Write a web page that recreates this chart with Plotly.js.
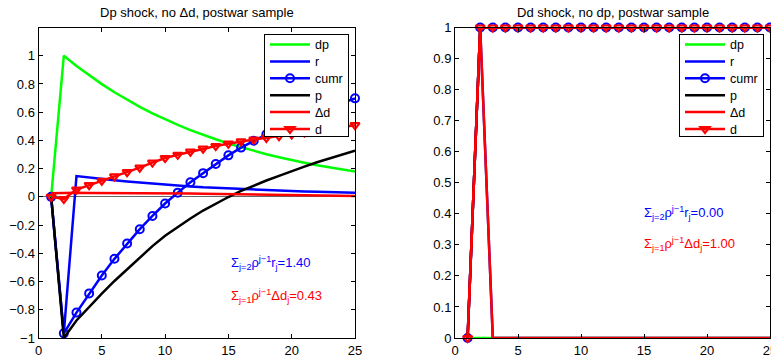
<!DOCTYPE html>
<html><head><meta charset="utf-8">
<script src="https://cdn.plot.ly/plotly-3.0.1.min.js"></script>
<style>html,body{margin:0;padding:0;background:#fff;} #chart{width:771px;height:358px;}</style>
</head><body><div id="chart"></div>
<script>
// horizon j = 1..25
const steps = [1,2,3,4,5,6,7,8,9,10,11,12,13,14,15,16,17,18,19,20,21,22,23,24,25];
const seriesNames = ['dp','r','cumr','p','\u0394d','d'];

// Left panel: Dp shock, no Δd
const dpL   = [0,1.000,0.928,0.861,0.799,0.741,0.688,0.638,0.592,0.550,0.510,0.473,0.439,0.408,0.378,0.351,0.326,0.302,0.281,0.260,0.242,0.224,0.208,0.193,0.180];
const rL    = [0,-0.967,0.147,0.136,0.127,0.118,0.109,0.101,0.094,0.088,0.080,0.074,0.068,0.064,0.060,0.055,0.050,0.046,0.043,0.040,0.038,0.036,0.034,0.032,0.030];
const cumrL = [0,-0.967,-0.820,-0.684,-0.557,-0.439,-0.330,-0.229,-0.135,-0.047,0.030,0.103,0.168,0.233,0.294,0.349,0.398,0.443,0.486,0.526,0.564,0.600,0.634,0.666,0.698];
const pL    = [0,-1.000,-0.876,-0.778,-0.685,-0.596,-0.513,-0.431,-0.349,-0.275,-0.212,-0.153,-0.097,-0.048,-0.001,0.042,0.080,0.116,0.149,0.183,0.214,0.245,0.274,0.302,0.328];
const ddL   = [0.025,0.028,0.029,0.028,0.028,0.027,0.027,0.026,0.026,0.025,0.024,0.023,0.022,0.021,0.020,0.019,0.018,0.017,0.015,0.014,0.013,0.011,0.010,0.008,0.007];
const dL    = [0,-0.015,0.052,0.083,0.114,0.145,0.175,0.207,0.243,0.275,0.298,0.320,0.342,0.360,0.377,0.393,0.406,0.418,0.430,0.443,0.456,0.469,0.482,0.495,0.508];

// Right panel: Dd shock, no dp
const dpR   = [0,0,0,0,0,0,0,0,0,0,0,0,0,0,0,0,0,0,0,0,0,0,0,0,0];
const rR    = [0,1,0,0,0,0,0,0,0,0,0,0,0,0,0,0,0,0,0,0,0,0,0,0,0];
const cumrR = [0,1,1,1,1,1,1,1,1,1,1,1,1,1,1,1,1,1,1,1,1,1,1,1,1];
const pR    = [0,1,1,1,1,1,1,1,1,1,1,1,1,1,1,1,1,1,1,1,1,1,1,1,1];
const ddR   = [0,1,0,0,0,0,0,0,0,0,0,0,0,0,0,0,0,0,0,0,0,0,0,0,0];
const dR    = [0,1,1,1,1,1,1,1,1,1,1,1,1,1,1,1,1,1,1,1,1,1,1,1,1];

const titles = ['Dp shock, no \u0394d, postwar sample', 'Dd shock, no dp, postwar sample'];
const sumR  = ['1.40','0.00'];
const sumDd = ['0.43','1.00'];

const FONT = 'Liberation Sans, Arial, Helvetica, sans-serif';
const LW = 2.5;

function panel(xa, ya, leg, vals) {
  const styles = [
    {color:'#00ff00'},
    {color:'#0000ff'},
    {color:'#0000ff', marker:{symbol:'circle-open', size:8, color:'#0000ff', line:{width:2,color:'#0000ff'}}},
    {color:'#000000'},
    {color:'#ff0000'},
    {color:'#ff0000', marker:{symbol:'triangle-down-open', size:8, color:'#ff0000', line:{width:2.2,color:'#ff0000'}}}
  ];
  return vals.map((v,i)=>{
    const t = {type:'scatter', x:steps, y:v, name:seriesNames[i], xaxis:xa, yaxis:ya, legend:leg,
      mode: styles[i].marker ? 'lines+markers' : 'lines',
      line:{color:styles[i].color, width:LW}, cliponaxis:false};
    if (styles[i].marker) t.marker = styles[i].marker;
    return t;
  });
}

const data = [
  ...panel('x','y','legend',[dpL,rL,cumrL,pL,ddL,dL]),
  ...panel('x2','y2','legend2',[dpR,rR,cumrR,pR,ddR,dR])
];

const W = 770, H = 358;
const axBase = {showline:true, linecolor:'#000', linewidth:1, mirror:'ticks', ticks:'inside', ticklen:4,
  tickcolor:'#000', showgrid:false, zeroline:false, tickfont:{family:FONT,size:13,color:'#000'}};
const yDom = [(H-338)/H, (H-27.5)/H];
const legBase = {xanchor:'right', yanchor:'top', bgcolor:'#fff', bordercolor:'#000', borderwidth:1,
           font:{family:FONT,size:12.5,color:'#000'}, itemwidth:40, tracegroupgap:0};

const layout = {
  width:771, height:358, margin:{l:0,r:1,t:0,b:0}, paper_bgcolor:'#fff', plot_bgcolor:'#fff',
  font:{family:FONT, size:13, color:'#000'},
  xaxis: Object.assign({}, axBase, {domain:[38.5/W, 355/W], range:[0,25], tickvals:[0,5,10,15,20,25]}),
  yaxis: Object.assign({}, axBase, {domain:yDom, range:[-1,1.2], tickvals:[-1,-0.8,-0.6,-0.4,-0.2,0,0.2,0.4,0.6,0.8,1],
          zeroline:true, zerolinecolor:'#666', zerolinewidth:1}),
  xaxis2: Object.assign({}, axBase, {domain:[455/W, 1], range:[0,25], tickvals:[0,5,10,15,20,25], anchor:'y2',
          ticklabeloverflow:'allow'}),
  yaxis2: Object.assign({}, axBase, {domain:yDom, range:[0,1], dtick:0.1, tick0:0, anchor:'x2'}),
  legend: Object.assign({}, legBase, {x:349/W, y:(H-34)/H}),
  legend2: Object.assign({}, legBase, {x:764/W, y:(H-34)/H}),
  showlegend:true,
  annotations: [
    {xref:'paper', yref:'paper', x:196.75/W, y:(H-13)/H, xanchor:'center', yanchor:'middle', showarrow:false,
     text:titles[0], font:{family:FONT,size:13,color:'#000'}},
    {xref:'paper', yref:'paper', x:613/W, y:(H-13)/H, xanchor:'center', yanchor:'middle', showarrow:false,
     text:titles[1], font:{family:FONT,size:13,color:'#000'}},
    {xref:'x', yref:'y', x:15.05, y:-0.47, xanchor:'left', yanchor:'middle', showarrow:false,
     text:'\u03a3<sub>j=2</sub>\u03c1<sup>j\u22121</sup>r<sub>j</sub>='+sumR[0], font:{family:FONT,size:13,color:'#0000ff'}},
    {xref:'x', yref:'y', x:15.05, y:-0.70, xanchor:'left', yanchor:'middle', showarrow:false,
     text:'\u03a3<sub>j=1</sub>\u03c1<sup>j\u22121</sup>\u0394d<sub>j</sub>='+sumDd[0], font:{family:FONT,size:13,color:'#ff0000'}},
    {xref:'x2', yref:'y2', x:14.84, y:0.403, xanchor:'left', yanchor:'middle', showarrow:false,
     text:'\u03a3<sub>j=2</sub>\u03c1<sup>j\u22121</sup>r<sub>j</sub>='+sumR[1], font:{family:FONT,size:13,color:'#0000ff'}},
    {xref:'x2', yref:'y2', x:14.84, y:0.303, xanchor:'left', yanchor:'middle', showarrow:false,
     text:'\u03a3<sub>j=1</sub>\u03c1<sup>j\u22121</sup>\u0394d<sub>j</sub>='+sumDd[1], font:{family:FONT,size:13,color:'#ff0000'}}
  ]
};

Plotly.newPlot('chart', data, layout, {displayModeBar:false, staticPlot:true}).then(gd => {
  // tighten legend rows to the reference's row pitch (Plotly enforces a 19px minimum)
  ['legend','legend2'].forEach(id => {
    const g = gd.querySelector('g.' + id);
    if (!g) return;
    const traces = g.querySelectorAll('g.traces');
    traces.forEach((t, i) => {
      const m = /translate\(\s*([-\d.e]+)[\s,]+([-\d.e]+)\s*\)/.exec(t.getAttribute('transform') || '');
      if (m) t.setAttribute('transform', 'translate(' + m[1] + ',' + (10.5 + i * 16.9) + ')');
    });
    const bg = g.querySelector('rect.bg');
    if (bg) bg.setAttribute('height', 102);
  });
});
</script>
</body></html>
